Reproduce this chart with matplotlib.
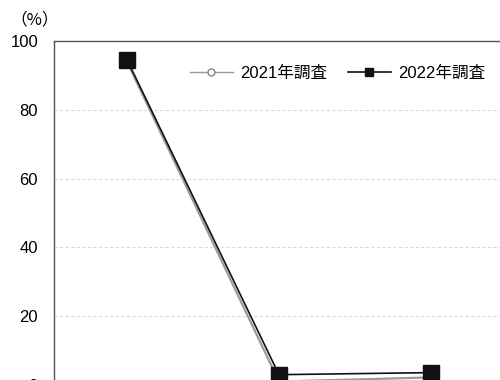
import matplotlib
matplotlib.use("Agg")
import matplotlib.pyplot as plt
from matplotlib.ticker import FixedLocator

plt.rcParams['font.family'] = ['Liberation Sans', 'Noto Sans CJK JP', 'DejaVu Sans']

# ── data ──────────────────────────────────────────────────────────────
categories = ["A", "B", "C"]
series_names = ["2021年調査", "2022年調査"]
values_2021 = [94.0, 1.0, 2.2]
values_2022 = [94.6, 3.0, 3.6]
y_ticks = [0, 20, 40, 60, 80, 100]

# ── figure ────────────────────────────────────────────────────────────
fig = plt.figure(figsize=(5.0, 3.8), dpi=100)
# the plot area runs past the right and bottom edge of the picture
ax = fig.add_axes([54 / 500, 1 - 385 / 380, 456 / 500, 344 / 380])

xs = list(range(len(categories)))
ax.plot(xs, values_2021, color="#9a9a9a", linewidth=1.6, marker="o",
        markersize=5, markerfacecolor="white", markeredgecolor="#888888",
        label=series_names[0], zorder=3)
ax.plot(xs, values_2022, color="#111111", linewidth=1.2, marker="s",
        markersize=11, markerfacecolor="#111111", markeredgecolor="#111111",
        label=series_names[1], zorder=4)

ax.set_xlim(-0.48, 2.52)
ax.set_ylim(0, 100)
ax.yaxis.set_major_locator(FixedLocator(y_ticks))
ax.set_xticks([])
ax.tick_params(axis="y", length=0, labelsize=12, pad=11.5)

ax.grid(axis="y", linestyle=(0, (3, 2)), color="#e2dcc0", linewidth=0.8)
ax.set_axisbelow(True)

for side in ["right", "bottom"]:
    ax.spines[side].set_visible(False)
for side in ["left", "top"]:
    ax.spines[side].set_color("#555555")
    ax.spines[side].set_linewidth(1.0)

fig.text(10 / 500, 1 - 20 / 380, "（%）", fontsize=12, va="center", ha="left",
         family=['Noto Sans CJK JP'])

leg = fig.legend(loc="center right", bbox_to_anchor=(500 / 500, 1 - 73 / 380),
                 ncol=2, frameon=False, fontsize=12, handlelength=2.6,
                 handletextpad=0.4, columnspacing=1.25)
handles = leg.get_lines()
handles[0].set_linewidth(1.0)
handles[0].set_markersize(5)
handles[1].set_linewidth(1.2)
handles[1].set_markersize(6)

fig.savefig("out.png", dpi=100)
